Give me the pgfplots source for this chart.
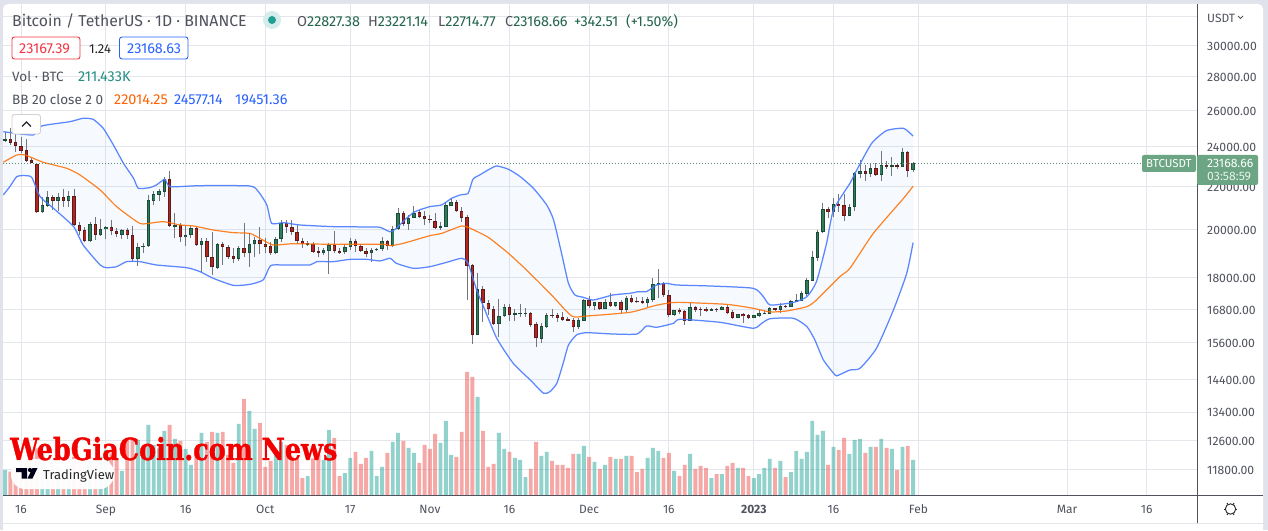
\documentclass[border=0pt]{standalone}
\usepackage{fontspec}
\setmainfont{Fira Sans}
\newfontfamily\wmfont[BoldFeatures={FakeBold=1.2}]{DejaVu Serif}
\usepackage{pgfplots}
\usepackage{pgfplotstable}
\pgfplotsset{compat=1.18}
\definecolor{pagebg}{HTML}{E0E3EB}
\definecolor{gridc}{HTML}{E4E6EB}
\definecolor{axisc}{HTML}{50535E}
\definecolor{txt}{HTML}{50535E}
\definecolor{wick}{HTML}{73767F}
\definecolor{upfill}{HTML}{2F7D58}
\definecolor{upedge}{HTML}{1B4B36}
\definecolor{dnfill}{HTML}{B2261F}
\definecolor{dnedge}{HTML}{5C1A18}
\definecolor{volup}{HTML}{26A69A}
\definecolor{voldn}{HTML}{EF5350}
\definecolor{bbblue}{HTML}{2962FF}
\definecolor{bborange}{HTML}{FF6D00}
\definecolor{bbfill}{HTML}{2196F3}
\definecolor{tagg}{HTML}{6BA583}
\definecolor{ohlc}{HTML}{22654A}
\definecolor{redv}{HTML}{F23645}

\pgfplotstableread{
d o h l c
-3 24335 24820 24280 24405
4 20790 21518 20744 21128
5 21096 21788 21050 21486
7 21328 21677 20866 21486
9 21328 21804 21050 21534
13 19506 20366 19491 20248
15 19764 20486 19735 20026
16 20026 20174 19592 20115
19 19792 20026 19620 19982
22 18750 19420 18490 19250
23 19250 19449 19025 19306
24 19292 21597 19278 21359
25 21328 21804 21128 21630
26 21613 21868 21328 21773
27 21757 22453 21518 22354
29 20144 20744 19634 20218
31 19677 20174 19306 19778
32 19764 20174 19634 20085
34 19363 19634 18248 19506
37 18408 19449 18341 19377
41 18778 19306 18695 19221
43 19025 19850 18448 19377
44 19377 19706 18833 19563
48 19025 19677 18970 19605
49 19592 20441 19491 20292
54 19363 19534 19306 19420
57 18998 19207 18929 19136
58 19108 19449 18155 19335
61 19039 19392 18970 19250
62 19250 19634 19136 19506
66 18998 19207 18655 19136
67 19122 19207 19108 19179
68 19179 19677 19108 19534
70 19306 20174 19250 20026
71 20026 20974 19997 20744
73 20248 20667 19997 20546
74 20546 21081 20516 20775
79 20100 20366 19997 20159
80 20144 21282 20115 21112
81 21096 21438 21081 21251
86 15887 18181 15875 17554
90 16278 17181 15818 16565
91 16565 16996 16504 16872
93 16602 16799 16373 16663
94 16626 16996 16528 16663
95 16626 16835 16504 16651
98 15749 16290 15612 16183
99 16171 16675 16135 16577
105 16171 16492 16100 16397
106 16385 17181 16373 17132
108 16934 17082 16774 17057
110 16823 17169 16799 17057
112 16922 17082 16872 17057
114 16774 17298 16712 17207
118 17045 17272 16872 17181
119 17144 17983 17082 17745
120 17732 18341 17207 17784
123 16602 16774 16552 16762
126 16385 17020 16373 16872
130 16750 16835 16738 16811
132 16786 16922 16774 16885
135 16492 16626 16480 16614
138 16492 16590 16480 16577
139 16552 16774 16504 16651
140 16626 16738 16614 16663
141 16639 16897 16626 16835
143 16774 17045 16675 16922
145 16897 17144 16885 17107
146 17082 17374 17070 17144
147 17120 17490 17107 17400
148 17387 17983 17310 17904
149 17891 19095 17878 18846
150 18819 19997 18695 19893
151 19893 21205 19850 20928
153 20820 21438 20591 21158
156 20637 21158 20622 21020
157 21020 22733 20866 22650
158 22633 23323 22420 22750
160 22633 23153 22486 22900
162 22584 23789 22288 23051
164 22983 23494 22535 23051
166 22983 23925 22966 23720
168 22827 23221 22714 23169
}\candUp

\pgfplotstableread{
d o h l c
-2 24405 25000 24105 24193
-1 24245 25185 23755 24070
0 24050 24515 23668 23805
1 23840 24405 23238 23272
2 23306 23408 23153 23153
3 23136 23153 20775 20790
6 21486 21597 20897 21328
8 21486 21868 21050 21328
10 21534 21868 20174 20203
11 20203 20366 19778 19968
12 19982 20144 19491 19506
14 20248 20591 19563 19764
17 20115 20441 19778 19938
18 19938 20070 19677 19807
20 19982 20070 19592 19764
21 19764 20174 18655 18750
28 22354 22767 20144 20174
30 20218 20292 19491 19677
33 20085 20144 19349 19363
35 19506 19634 18655 18833
36 18833 19924 18115 18421
38 19377 19491 18517 19264
39 19264 19349 18750 18860
40 18874 19207 18613 18778
42 19221 20322 18833 19025
45 19563 20144 18970 19377
46 19377 19634 18998 19278
47 19306 19491 18929 19025
50 20292 20441 19850 20115
51 20115 20441 19778 19924
52 19924 20218 19392 19506
53 19506 19634 19207 19377
55 19406 19491 19039 19067
56 19095 19250 18860 19025
59 19335 19968 18998 19108
60 19108 19207 18970 19025
63 19506 19592 19067 19306
64 19306 19392 19039 19095
65 19081 19207 18833 18970
69 19534 19563 19136 19306
72 20744 20850 20174 20248
75 20790 20897 20516 20591
76 20606 20850 20218 20471
77 20486 20667 20322 20441
78 20411 20744 20040 20100
82 21251 21359 20850 20866
83 20866 21050 20366 20546
84 20561 20667 17144 18490
85 18503 18545 15565 15887
87 17554 17682 16350 17020
88 17020 17144 16590 16799
89 16799 16922 16230 16278
92 16872 16983 16373 16602
96 16651 16712 16171 16242
97 16254 16350 15475 15760
100 16590 16799 16468 16565
101 16590 16651 16350 16492
102 16504 16688 16373 16421
103 16433 16528 16385 16385
104 16397 16468 15992 16171
107 17132 17298 16835 16934
109 17057 17082 16811 16823
111 17057 17400 16872 16934
113 17057 17144 16651 16774
115 17207 17336 17020 17070
116 17107 17247 17057 17082
117 17095 17272 17020 17045
121 17784 17823 17272 17323
122 17349 17528 16528 16590
124 16762 16835 16626 16688
125 16738 16774 16230 16385
127 16885 16922 16712 16774
128 16811 16897 16552 16774
129 16811 16897 16712 16738
131 16811 16848 16712 16774
133 16885 16958 16626 16663
134 16700 16774 16445 16480
136 16626 16675 16314 16552
137 16590 16626 16456 16492
142 16835 16860 16738 16774
144 16922 16958 16885 16897
152 20943 21020 20516 20820
154 21174 21629 20820 21081
155 21112 21629 20411 20637
159 22750 23068 22272 22633
161 22900 23153 22535 22584
163 23051 23272 22850 22966
165 23051 23153 22850 22966
167 23720 23805 22486 22783
}\candDown

\pgfplotstableread{
d p
-3.33 24820
2.3 24640
3.9 25130
9.2 25370
11.7 25560
13.6 25500
15.5 25000
17.4 24105
19.3 23153
21.2 22400
22.1 21915
24.3 21950
25.5 22075
27.1 22354
28.1 21995
33.7 22043
43.1 22027
44.7 21757
46.3 21128
47.2 20292
49.4 20322
52.5 20218
58.8 20144
65.1 20130
67.6 20115
69.5 19924
70.7 20070
72.6 20516
74.2 20820
77.0 21050
79.2 21128
81.1 21438
82.7 21597
84.2 21677
85.1 22354
86.4 22568
88.3 22867
89.6 23017
91.8 22850
94.0 22486
96.5 21915
99.0 21128
100.3 20441
101.8 18998
103.1 17784
104.3 17336
105.9 17247
107.8 17144
111.5 17336
114.7 17400
116.3 17464
117.8 17464
119.7 17720
121.6 17784
123.5 17720
129.8 17682
137.9 17592
139.8 17272
141.1 16958
145.5 17057
148.0 17272
149.8 17850
151.7 19420
153.0 20897
156.1 22156
157.4 22817
160.2 24193
163.0 24875
166.2 25000
168 24577
}\bbUpper

\pgfplotstableread{
d p
-3.33 21597
-2.1 21995
-0.8 22486
0.4 22535
2.0 22453
3.6 21518
6.1 20974
9.9 20144
11.7 19349
14.9 18517
16.1 18408
18.0 18448
19.9 18655
22.4 18655
25.5 18517
31.2 18408
33.7 18248
36.2 17983
40.0 17707
43.1 17745
45.6 17917
47.0 18490
49.4 18517
54.4 18517
55.7 18655
58.8 18655
62.0 18750
65.1 18750
67.6 18682
69.5 18792
70.7 18586
73.9 18381
77.0 18448
80.2 18627
83.0 18792
84.2 18586
85.8 17528
87.1 16897
89.6 15760
92.7 14918
95.9 14382
98.4 13968
99.6 14016
100.9 14275
102.1 14918
103.1 15530
104.6 15875
106.5 15956
111.5 15910
116.0 15910
117.8 16195
119.7 16147
122.9 16290
124.1 16433
131.6 16326
137.9 16112
139.5 16290
141.1 16456
145.5 16468
148.0 16171
149.5 15703
151.1 15030
153.3 14540
153.9 14530
156.1 14700
158.0 14755
161.1 15417
164.3 16774
166.8 18181
168 19451
}\bbLower

\pgfplotstableread{
d p
-3.33 24820
2.3 24640
3.9 25130
9.2 25370
11.7 25560
13.6 25500
15.5 25000
17.4 24105
19.3 23153
21.2 22400
22.1 21915
24.3 21950
25.5 22075
27.1 22354
28.1 21995
33.7 22043
43.1 22027
44.7 21757
46.3 21128
47.2 20292
49.4 20322
52.5 20218
58.8 20144
65.1 20130
67.6 20115
69.5 19924
70.7 20070
72.6 20516
74.2 20820
77.0 21050
79.2 21128
81.1 21438
82.7 21597
84.2 21677
85.1 22354
86.4 22568
88.3 22867
89.6 23017
91.8 22850
94.0 22486
96.5 21915
99.0 21128
100.3 20441
101.8 18998
103.1 17784
104.3 17336
105.9 17247
107.8 17144
111.5 17336
114.7 17400
116.3 17464
117.8 17464
119.7 17720
121.6 17784
123.5 17720
129.8 17682
137.9 17592
139.8 17272
141.1 16958
145.5 17057
148.0 17272
149.8 17850
151.7 19420
153.0 20897
156.1 22156
157.4 22817
160.2 24193
163.0 24875
166.2 25000
168 24577
168 19451
166.8 18181
164.3 16774
161.1 15417
158.0 14755
156.1 14700
153.9 14530
153.3 14540
151.1 15030
149.5 15703
148.0 16171
145.5 16468
141.1 16456
139.5 16290
137.9 16112
131.6 16326
124.1 16433
122.9 16290
119.7 16147
117.8 16195
116.0 15910
111.5 15910
106.5 15956
104.6 15875
103.1 15530
102.1 14918
100.9 14275
99.6 14016
98.4 13968
95.9 14382
92.7 14918
89.6 15760
87.1 16897
85.8 17528
84.2 18586
83.0 18792
80.2 18627
77.0 18448
73.9 18381
70.7 18586
69.5 18792
67.6 18682
65.1 18750
62.0 18750
58.8 18655
55.7 18655
54.4 18517
49.4 18517
47.0 18490
45.6 17917
43.1 17745
40.0 17707
36.2 17983
33.7 18248
31.2 18408
25.5 18517
22.4 18655
19.9 18655
18.0 18448
16.1 18408
14.9 18517
11.7 19349
9.9 20144
6.1 20974
3.6 21518
2.0 22453
0.4 22535
-0.8 22486
-2.1 21995
-3.33 21597
}\bbBand

\pgfplotstableread{
d p
-3.33 23204
-0.8 23580
0.75 23580
4.2 23204
8.6 22900
11.1 22568
14.9 21836
18.0 21050
21.8 20366
23.0 20262
26.8 20366
29.9 20218
32.5 20174
36.2 19997
40.0 19880
43.1 19850
45.0 19634
47.5 19349
51.3 19406
58.8 19377
68.2 19377
69.5 19320
72.0 19420
77.0 19749
79.2 19850
83.0 20174
84.6 20070
88.0 19677
91.8 18998
95.2 18314
99.9 17336
103.7 16552
106.5 16552
114.7 16688
119.1 16922
121.6 17020
124 17057
132.9 16983
137.9 16835
141.1 16700
144.2 16738
148.0 16897
149.8 17144
154.2 18049
156.1 18381
160.5 19850
166.2 21438
168 22014
}\bbMiddle

\pgfplotstableread{
d v
-3 150
4 250
5 170
7 170
9 170
13 210
15 230
16 270
19 144
22 330
23 270
24 420
25 300
26 280
27 384
29 336
31 276
32 180
34 372
37 372
41 426
43 504
44 396
48 250
49 318
54 114
57 210
58 390
61 132
62 222
66 264
67 114
68 168
70 318
71 372
73 282
74 252
79 312
80 444
81 240
86 588
90 372
91 276
93 222
94 210
95 108
98 234
99 258
105 246
106 294
108 198
110 180
112 216
114 234
118 222
119 282
120 264
123 144
126 246
130 102
132 126
135 162
138 102
139 126
140 162
141 216
143 204
145 138
146 264
147 216
148 258
149 444
150 360
151 384
153 288
156 246
157 330
158 336
160 288
162 336
164 276
166 288
168 211
}\volUp

\pgfplotstableread{
d v
-2 140
-1 170
0 190
1 210
2 230
3 280
6 180
8 150
10 230
11 210
12 190
14 210
17 250
18 210
20 330
21 340
28 420
30 324
33 250
35 318
36 378
38 378
39 240
40 192
42 576
45 432
46 168
47 204
50 300
51 230
52 216
53 102
55 220
56 240
59 342
60 114
63 258
64 186
65 222
69 252
72 324
75 192
76 300
77 276
78 366
82 228
83 378
84 738
85 708
87 384
88 168
89 186
92 258
96 156
97 318
100 204
101 180
102 180
103 162
104 246
107 228
109 156
111 228
113 216
115 234
116 138
117 156
121 222
122 252
124 114
125 180
127 156
128 174
129 162
131 126
133 174
134 192
136 162
137 114
142 162
144 108
152 180
154 270
155 342
159 252
161 288
163 282
165 150
167 294
}\volDown

\pgfplotsset{
  ebars/.style n args={2}{draw=none, mark=none, forget plot,
    error bars/.cd, y dir=both, y explicit, error mark=none,
    error bar style={draw=#1, line width=#2}},
}
% text at pixel position: x, baseline y from the top
\newcommand{\T}[4][txt]{\node[anchor=base west,inner sep=0pt,text=#1,font=\fontsize{#2}{#2}\selectfont] at #3 {#4};}

\begin{document}
\begin{tikzpicture}[x=1pt,y=1pt]
\path[use as bounding box] (0,0) rectangle (1268,530);
\fill[pagebg] (0,0) rectangle (1268,530);
\fill[white,rounded corners=5pt] (3,-10) rectangle (1263,526);

\begin{axis}[
  at={(3pt,35pt)}, anchor=south west, scale only axis,
  width=1194pt, height=491pt,
  xmin=-3.39, xmax=221.47,
  ymode=log, ymin=11170, ymax=32863,
  axis line style={draw=none},
  grid=major, grid style={gridc, line width=1pt},
  major tick length=0pt, minor tick length=0pt,
  xtick={0,16,31,46,62,77,92,107,122,138,153,169,197,212},
  xticklabels={16,Sep,16,Oct,17,Nov,16,Dec,16,\textbf{2023},16,Feb,Mar,16},
  ytick={32000,30000,28000,26000,24000,22000,20000,18000,16800,15600,14400,13400,12600,11800},
  yticklabels={,30000.00,28000.00,26000.00,24000.00,22000.00,20000.00,18000.00,16800.00,15600.00,14400.00,13400.00,12600.00,11800.00},
  xtick pos=bottom, ytick pos=right,
  xticklabel pos=bottom, yticklabel pos=right,
  x tick label style={font=\fontsize{12}{12}\selectfont, text=txt, inner sep=0pt, anchor=base, yshift=-19pt},
  y tick label style={font=\fontsize{12.2}{12.2}\selectfont, text=txt, inner sep=0pt, anchor=west, xshift=10pt, yshift=-.8pt},
  clip=true,
]
% band area
\addplot[fill=bbfill, fill opacity=.04, draw=none, mark=none, smooth, tension=.35] table[x=d,y=p] {\bbBand};
% wicks
\addplot[ebars={wick}{1pt}] table[x=d, y=c, y error plus expr=\thisrow{h}-\thisrow{c}, y error minus expr=\thisrow{c}-\thisrow{l}] {\candUp};
\addplot[ebars={wick}{1pt}] table[x=d, y=c, y error plus expr=\thisrow{h}-\thisrow{c}, y error minus expr=\thisrow{c}-\thisrow{l}] {\candDown};
% bodies: edge
\addplot[ebars={upedge}{3.4pt}] table[x=d, y=o, y error plus expr=\thisrow{c}-\thisrow{o}, y error minus expr=0] {\candUp};
\addplot[ebars={dnedge}{3.4pt}] table[x=d, y=c, y error plus expr=\thisrow{o}-\thisrow{c}, y error minus expr=0] {\candDown};
% bodies: fill
\addplot[ebars={upfill}{1.6pt}] table[x=d, y expr=\thisrow{o}*1.002, y error plus expr={max(\thisrow{c}*0.998-\thisrow{o}*1.002,0)}, y error minus expr=0] {\candUp};
\addplot[ebars={dnfill}{1.6pt}] table[x=d, y expr=\thisrow{c}*1.002, y error plus expr={max(\thisrow{o}*0.998-\thisrow{c}*1.002,0)}, y error minus expr=0] {\candDown};
% bands
\addplot[bbblue!85!white, line width=1.25pt, opacity=.9, mark=none, smooth, tension=.35] table[x=d,y=p] {\bbUpper};
\addplot[bbblue!85!white, line width=1.25pt, opacity=.9, mark=none, smooth, tension=.35] table[x=d,y=p] {\bbLower};
\addplot[bborange, line width=1.2pt, opacity=.85, mark=none, smooth, tension=.35] table[x=d,y=p] {\bbMiddle};
% last price line
\addplot[tagg!85!black, line width=.8pt, dash pattern=on 1pt off 2pt, mark=none] coordinates {(-3.39,23168.66) (211.1,23168.66)};
\end{axis}

\begin{axis}[
  at={(3pt,35pt)}, anchor=south west, scale only axis,
  width=1194pt, height=491pt,
  xmin=-3.39, xmax=221.47, ymin=0, ymax=2946,
  hide axis, clip=true,
]
\addplot[ybar, bar width=3.9pt, bar shift=0pt, fill=volup, fill opacity=.5, draw=none] table[x=d,y=v] {\volUp};
\addplot[ybar, bar width=3.9pt, bar shift=0pt, fill=voldn, fill opacity=.5, draw=none] table[x=d,y=v] {\volDown};
\end{axis}

% frame lines of the scales
\draw[axisc,line width=1pt] (3,35) -- (1263,35);
\draw[axisc,line width=1pt] (1197,7.5) -- (1197,526);
\draw[gridc,line width=1pt] (3,7) -- (1263,7);

% scale header and settings
\T{12}{(1207,507)}{USDT}
\draw[txt,line width=.8pt] (1238,514) -- (1240.5,511.5) -- (1243,514);
\begin{scope}[shift={(1230.5,21)}]
\draw[black!85,line width=.9pt] (0,0) circle (5.2);
\foreach \a in {0,60,...,300} \draw[black!85,line width=1pt] (\a:5.2) -- (\a:6.9);
\end{scope}

% last price tags
\fill[tagg,rounded corners=2pt] (1142,358) rectangle (1196,375);
\node[anchor=base west,inner sep=0pt,text=white,font=\fontsize{11.5}{11.5}\selectfont] at (1146,362.5) {BTCUSDT};
\fill[tagg,rounded corners=2pt] (1197,345) rectangle (1258,375);
\node[anchor=base west,inner sep=0pt,text=white,font=\fontsize{12.2}{12.2}\selectfont] at (1207,362.5) {23168.66};
\node[anchor=base west,inner sep=0pt,text=white!85!tagg,font=\fontsize{12.2}{12.2}\selectfont] at (1207,349.5) {03:58:59};

% legend block
\T{15.8}{(12,503)}{Bitcoin / TetherUS · 1D · BINANCE}
\fill[volup!20] (272,510) circle (9);
\fill[black!5!volup] (272,510) circle (4);
\T[txt]{14.4}{(297,503.5)}{O\textcolor{ohlc}{22827.38}}
\T[txt]{14.4}{(368,503.5)}{H\textcolor{ohlc}{23221.14}}
\T[txt]{14.4}{(438,503.5)}{L\textcolor{ohlc}{22714.77}}
\T[txt]{14.4}{(505,503.5)}{C\textcolor{ohlc}{23168.66}}
\T[ohlc]{14.4}{(574,503.5)}{+342.51}
\T[ohlc]{14.2}{(626,503.5)}{(+1.50\%)}
\draw[redv,fill=white,line width=.9pt,rounded corners=2.5pt] (12,471) rectangle (80,493);
\T[redv]{14.4}{(19,476.5)}{23167.39}
\T[black!85]{13}{(89,476.5)}{1.24}
\draw[bbblue,fill=white,line width=.9pt,rounded corners=2.5pt] (119.5,471) rectangle (188,493);
\T[bbblue]{14.4}{(127,476.5)}{23168.63}
\T{13.5}{(12,448.5)}{Vol · BTC}
\T[volup!85!black]{14.4}{(78,448.5)}{211.433K}
\T{13.5}{(12,425)}{BB 20 close 2 0}
\T[bborange!90!red]{14.4}{(114,425)}{22014.25}
\T[bbblue]{14.4}{(174,425)}{24577.14}
\T[bbblue]{14.4}{(235,425)}{19451.36}

% collapse button
\draw[black!18,fill=white,line width=.9pt,rounded corners=2.5pt] (12,396) rectangle (40.5,415.5);
\draw[black!85,line width=1.1pt] (22,403.5) -- (26.5,408) -- (31,403.5);

% TradingView badge
\fill[white,rounded corners=14pt,opacity=.95] (11,41) rectangle (114,71);
\fill[black!90!blue] (16,62) rectangle (27,58) (21.5,58) rectangle (27,51.5);
\fill[black!90!blue] (30,60) circle (2.1);
\fill[black!90!blue] (32.5,62) -- (37.5,62) -- (32.5,51.5) -- (27.5,51.5) -- cycle;
\T[black!85]{13}{(43,51)}{TradingView}

% watermark
\node[anchor=base west,inner sep=0pt,text=red!95!black,font=\wmfont\bfseries\fontsize{25}{25}\selectfont,xscale=1.02,yscale=1.22] at (10,70) {WebGiaCoin.com News};
\end{tikzpicture}
\end{document}
